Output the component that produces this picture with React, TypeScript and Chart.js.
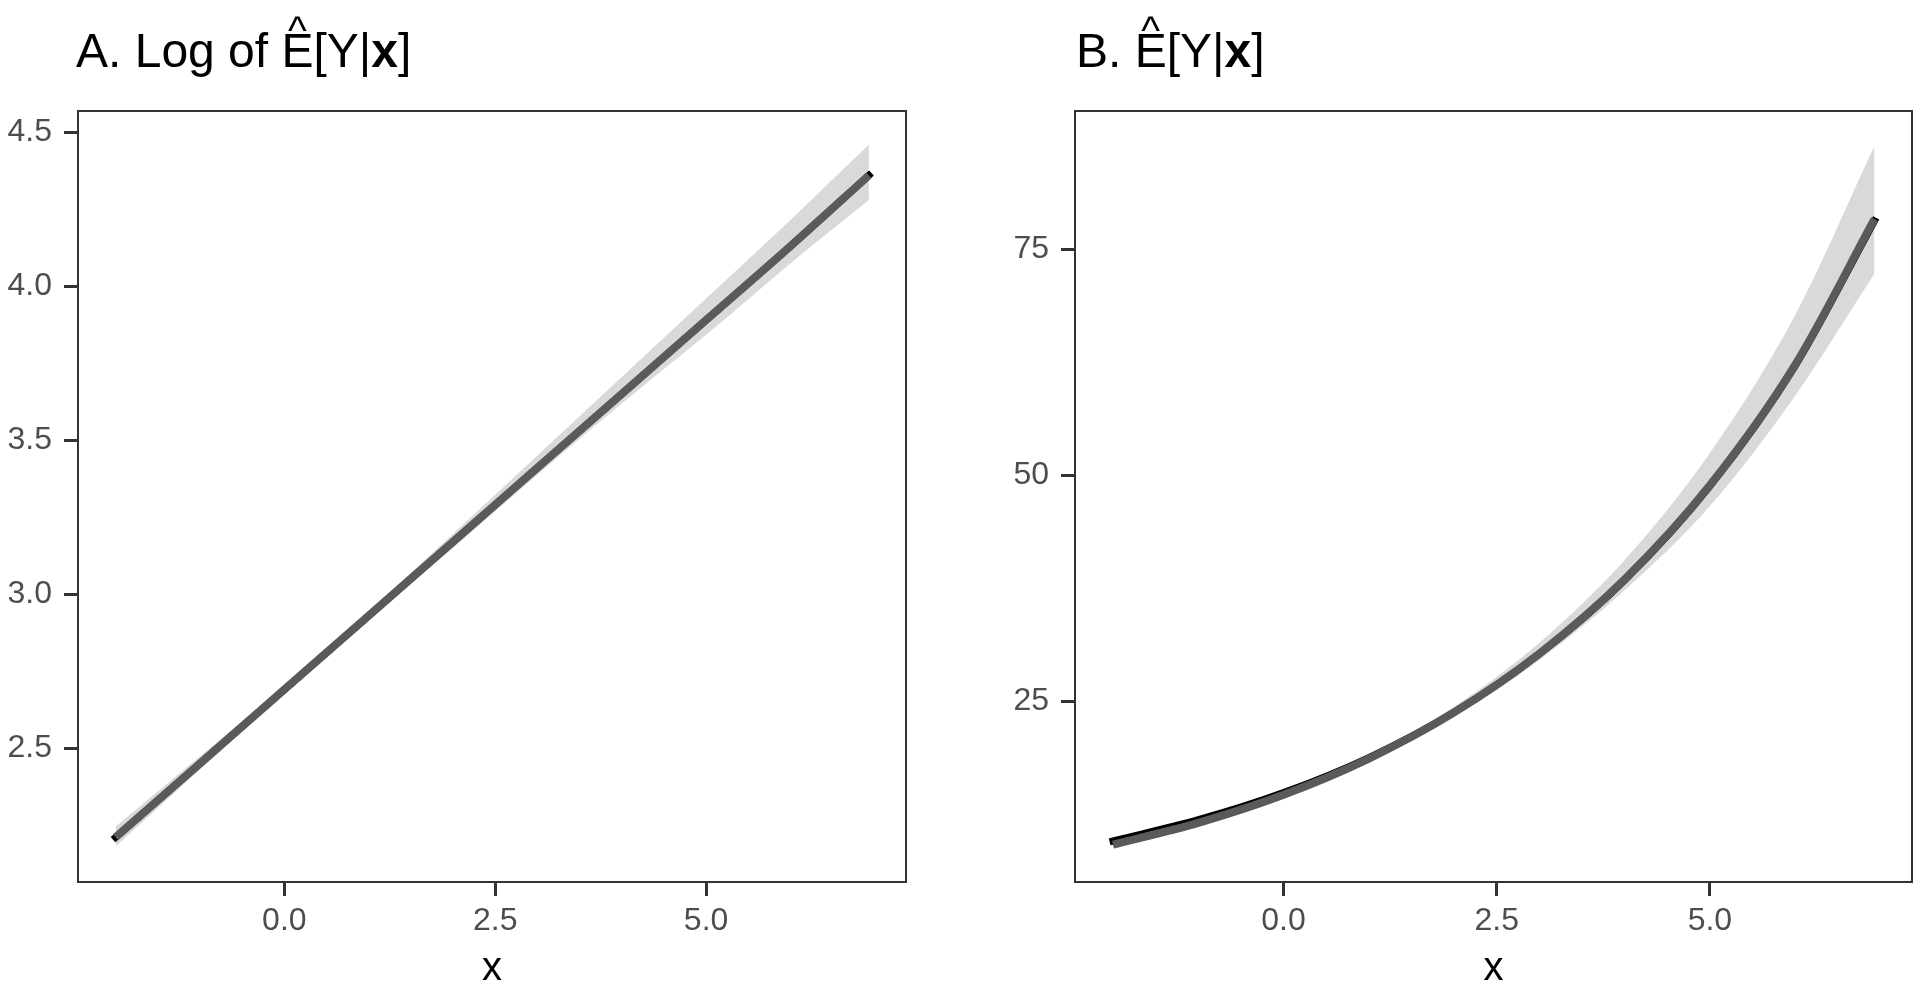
import React, { useEffect, useRef } from "react";
import { Chart, registerables } from "chart.js";

Chart.register(...registerables);

const FONT = '"Liberation Sans", Arial, Helvetica, sans-serif';

// x grid shared by both panels
const xValues = [-2, -1, 0, 1, 2, 3, 4, 5, 6, 6.93];

// Panel A: log of fitted mean
const logFit = [2.21, 2.45, 2.69, 2.93, 3.17, 3.41, 3.65, 3.89, 4.13, 4.36];
const logReference = [2.21, 2.45, 2.69, 2.93, 3.17, 3.41, 3.65, 3.89, 4.13, 4.36];
const logUpper = [2.245, 2.473, 2.703, 2.944, 3.196, 3.45, 3.705, 3.96, 4.215, 4.46];
const logLower = [2.18, 2.43, 2.68, 2.918, 3.15, 3.388, 3.619, 3.842, 4.074, 4.28];

// Panel B: fitted mean on response scale
const respFit = [9.2, 11.6, 14.7, 18.7, 23.8, 30.3, 38.5, 48.9, 62.2, 78.3];
const respReference = [9.6, 11.95, 14.95, 18.82, 23.83, 30.25, 38.4, 48.8, 62.1, 78.1];
const respUpper = [9.44, 11.86, 14.92, 18.99, 24.43, 31.5, 40.64, 52.46, 67.7, 86.4];
const respLower = [8.85, 11.36, 14.59, 18.5, 23.34, 29.6, 37.3, 46.6, 58.8, 72.3];

// ticks
const xTicks = [0, 2.5, 5];
const xTickLabels = ["0.0", "2.5", "5.0"];
const yTicksA = [2.5, 3, 3.5, 4, 4.5];
const yTickLabelsA = ["2.5", "3.0", "3.5", "4.0", "4.5"];
const yTicksB = [25, 50, 75];
const yTickLabelsB = ["25", "50", "75"];

type PanelProps = {
  left: number;
  fit: number[];
  reference: number[];
  upper: number[];
  lower: number[];
  yMin: number;
  yMax: number;
  yTicks: number[];
  yTickLabels: string[];
  yAxisWidth: number;
  padRight: number;
};

function Panel(p: PanelProps) {
  const ref = useRef<HTMLCanvasElement>(null);
  useEffect(() => {
    if (!ref.current) return;
    const frame = {
      id: "frame",
      afterDraw(chart: any) {
        const { ctx, chartArea: a } = chart;
        ctx.save();
        ctx.strokeStyle = "#333333";
        ctx.lineWidth = 2;
        ctx.strokeRect(a.left, a.top, a.right - a.left, a.bottom - a.top);
        ctx.restore();
      },
    };
    const toPts = (ys: number[]) => xValues.map((x, i) => ({ x, y: ys[i] }));
    const grid = {
      drawOnChartArea: false,
      drawTicks: true,
      tickLength: 14,
      tickWidth: 3,
      tickColor: "#333333",
      color: "#333333",
      lineWidth: 3,
    };
    const tickFont = { family: FONT, size: 32, lineHeight: 1 };
    const chart = new Chart(ref.current, {
      type: "line",
      data: {
        datasets: [
          {
            data: toPts(p.upper),
            borderWidth: 0,
            borderColor: "rgba(0,0,0,0)",
            backgroundColor: "#d9d9d9",
            pointRadius: 0,
            fill: "+1",
            cubicInterpolationMode: "monotone",
            order: 3,
          },
          {
            data: toPts(p.lower),
            borderWidth: 0,
            borderColor: "rgba(0,0,0,0)",
            pointRadius: 0,
            fill: false,
            cubicInterpolationMode: "monotone",
            order: 2,
          },
          {
            data: toPts(p.reference),
            borderWidth: 7,
            borderColor: "#000000",
            pointRadius: 0,
            fill: false,
            borderCapStyle: "square",
            cubicInterpolationMode: "monotone",
            order: 1,
          },
          {
            data: toPts(p.fit),
            borderWidth: 8,
            borderColor: "#5a5a5a",
            pointRadius: 0,
            fill: false,
            borderCapStyle: "butt",
            cubicInterpolationMode: "monotone",
            order: 0,
          },
        ],
      } as any,
      options: {
        responsive: false,
        animation: false,
        events: [],
        layout: { padding: { left: 0, top: 111, right: p.padRight, bottom: 0 } },
        plugins: {
          legend: { display: false },
          tooltip: { enabled: false },
          filler: { drawTime: "beforeDatasetsDraw" },
        },
        scales: {
          x: {
            type: "linear",
            min: -2.446,
            max: 7.37,
            afterFit: (s: any) => {
              s.height = 108;
            },
            afterBuildTicks: (s: any) => {
              s.ticks = xTicks.map((v) => ({ value: v }));
            },
            ticks: {
              callback: (_v: any, i: number) => xTickLabels[i],
              font: tickFont,
              color: "#4d4d4d",
              padding: 9,
              maxRotation: 0,
              autoSkip: false,
            },
            grid,
            border: { display: false },
            title: {
              display: true,
              text: "x",
              font: { family: FONT, size: 40, lineHeight: 1 },
              color: "#000000",
              padding: { top: 0, bottom: 1 },
            },
          },
          y: {
            type: "linear",
            min: p.yMin,
            max: p.yMax,
            afterFit: (s: any) => {
              s.width = p.yAxisWidth;
            },
            afterBuildTicks: (s: any) => {
              s.ticks = p.yTicks.map((v) => ({ value: v }));
            },
            ticks: {
              callback: (_v: any, i: number) => p.yTickLabels[i],
              font: tickFont,
              color: "#4d4d4d",
              padding: 12,
              autoSkip: false,
            },
            grid,
            border: { display: false },
          },
        },
      } as any,
      plugins: [frame],
    });
    return () => chart.destroy();
  }, []);
  return (
    <canvas
      ref={ref}
      width={960}
      height={990}
      style={{ position: "absolute", left: p.left, top: 0, width: 960, height: 990, display: "block" }}
    />
  );
}

function Title({ left, prefix }: { left: number; prefix: string }) {
  return (
    <div
      style={{
        position: "absolute",
        left,
        top: 27,
        fontFamily: FONT,
        fontSize: 48,
        lineHeight: "48px",
        whiteSpace: "nowrap",
        color: "#000000",
      }}
    >
      {prefix}
      <span style={{ position: "relative", display: "inline-block" }}>
        E
        <span
          style={{
            position: "absolute",
            left: "50%",
            transform: "translateX(-50%)",
            top: -17,
            fontSize: 40,
            lineHeight: "40px",
          }}
        >
          ^
        </span>
      </span>
      [Y|<b>x</b>]
    </div>
  );
}

export default function App() {
  return (
    <div style={{ position: "absolute", left: 0, top: 0, width: 1920, height: 990, background: "#ffffff", overflow: "hidden" }}>
      <Panel
        left={0}
        fit={logFit}
        reference={logReference}
        upper={logUpper}
        lower={logLower}
        yMin={2.065}
        yMax={4.569}
        yTicks={yTicksA}
        yTickLabels={yTickLabelsA}
        yAxisWidth={78}
        padRight={54}
      />
      <Panel
        left={960}
        fit={respFit}
        reference={respReference}
        upper={respUpper}
        lower={respLower}
        yMin={5.07}
        yMax={90.25}
        yTicks={yTicksB}
        yTickLabels={yTickLabelsB}
        yAxisWidth={115}
        padRight={8}
      />
      <Title left={76} prefix="A. Log of " />
      <Title left={1076} prefix="B. " />
    </div>
  );
}
